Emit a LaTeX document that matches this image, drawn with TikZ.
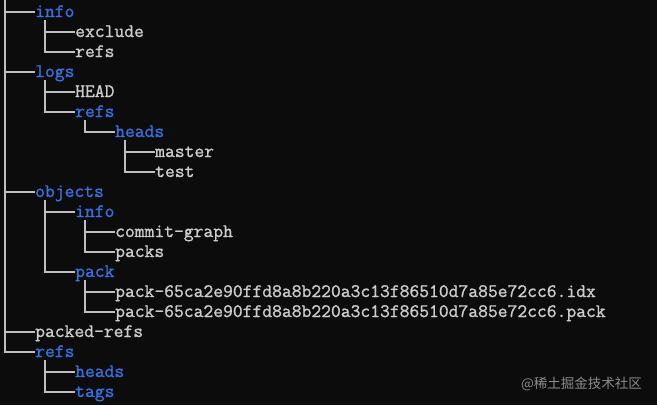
\documentclass[tikz,border=0pt]{standalone}
\usepackage{fontspec}
\newfontfamily\cjkfont{Noto Sans CJK SC}
\newfontfamily\termfont{Latin Modern Mono}[FakeBold=1.2]
\begin{document}
\begin{tikzpicture}[x=1pt,y=-1pt,
  ent/.style={anchor=west,inner sep=0pt,text height=10pt,text depth=0pt,font=\termfont\fontsize{19.05}{20}\selectfont,text=fgc},
  dir/.style={ent,text=dirc},
  br/.style={draw=linec,line width=1.4pt},
]
\definecolor{bgc}{HTML}{0C0C0C}
\definecolor{fgc}{HTML}{CCCCCC}
\definecolor{dirc}{HTML}{3B6FDB}
\definecolor{linec}{HTML}{BEBEBE}
\path[fill=bgc] (0,0) rectangle (657,405);
\useasboundingbox (0,0) rectangle (657,405);
\node[dir] (info) at (35,12) {info};
\node[ent] (exclude) at (75,32) {exclude};
\node[ent] (inforefs) at (75,52) {refs};
\node[dir] (logs) at (35,72) {logs};
\node[ent] (head) at (75,92) {HEAD};
\node[dir] (logsrefs) at (75,112) {refs};
\node[dir] (heads) at (115,132) {heads};
\node[ent] (master) at (155,152) {master};
\node[ent] (test) at (155,172) {test};
\node[dir] (objects) at (35,192) {objects};
\node[dir] (objinfo) at (75,212) {info};
\node[ent] (cgraph) at (115,232) {commit-graph};
\node[ent] (packs) at (115,252) {packs};
\node[dir] (pack) at (75,272) {pack};
\node[ent] (idx) at (115,292) {pack-65ca2e90ffd8a8b220a3c13f86510d7a85e72cc6.idx};
\node[ent] (packf) at (115,312) {pack-65ca2e90ffd8a8b220a3c13f86510d7a85e72cc6.pack};
\node[ent] (packedrefs) at (35,332) {packed-refs};
\node[dir] (refs) at (35,352) {refs};
\node[dir] (rheads) at (75,372) {heads};
\node[dir] (tags) at (75,392) {tags};
% trunks
\coordinate (root) at (5,0);
\foreach \p in {info,logs,logsrefs,heads,objects,objinfo,pack,refs}
  \coordinate (\p-t) at ([xshift=10pt,yshift=-8pt]\p.west);
\draw[br] (root) |- (refs.west);
\foreach \c in {info,logs,objects,packedrefs}
  \draw[br] (root |- \c.west) -- (\c.west);
\draw[br] (info-t) |- (inforefs.west);
\draw[br] (info-t |- exclude.west) -- (exclude.west);
\draw[br] (logs-t) |- (logsrefs.west);
\draw[br] (logs-t |- head.west) -- (head.west);
\draw[br] (logsrefs-t) |- (heads.west);
\draw[br] (heads-t) |- (test.west);
\draw[br] (heads-t |- master.west) -- (master.west);
\draw[br] (objects-t) |- (pack.west);
\draw[br] (objects-t |- objinfo.west) -- (objinfo.west);
\draw[br] (objinfo-t) |- (packs.west);
\draw[br] (objinfo-t |- cgraph.west) -- (cgraph.west);
\draw[br] (pack-t) |- (packf.west);
\draw[br] (pack-t |- idx.west) -- (idx.west);
\draw[br] (refs-t) |- (tags.west);
\draw[br] (refs-t |- rheads.west) -- (rheads.west);
% watermark
\node[anchor=east,inner sep=0pt,text=white!55!black,font=\cjkfont\fontsize{13.5}{14}\selectfont] (wm) at (642,384) {@稀土掘金技术社区};
\end{tikzpicture}
\end{document}
